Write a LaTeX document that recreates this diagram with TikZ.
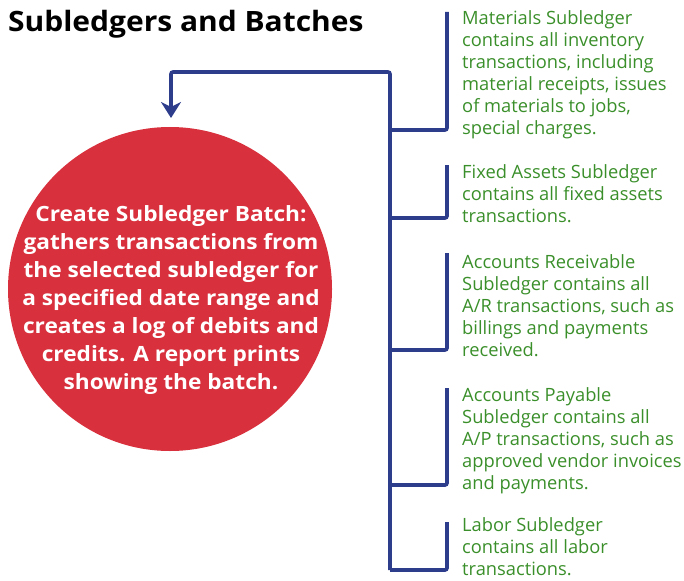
\documentclass[tikz,border=0pt]{standalone}
\usepackage{fontspec}
\setmainfont{Open Sans}
\newfontfamily\titlefont[FakeStretch=1.07]{Open Sans}
\newfontfamily\circfont[FakeStretch=1.08]{Open Sans}
\usetikzlibrary{arrows.meta}
\definecolor{myred}{HTML}{D8303C}
\definecolor{myblue}{HTML}{2E3C8C}
\definecolor{mygreen}{HTML}{3A8F2A}
\tikzset{
  conn/.style={draw=myblue, line width=3.6pt, rounded corners=2pt},
  desc/.style={anchor=north west, inner sep=0pt, align=left, text=mygreen,
    font=\fontsize{18.3}{22}\selectfont},
}
\begin{document}
\begin{tikzpicture}[x=1pt,y=-1pt]
\useasboundingbox (0,0) rectangle (684,580);
\node[anchor=base west, inner sep=0pt, font=\titlefont\fontsize{28}{32}\selectfont\bfseries] (title) at (8,32) {Subledgers and Batches};
\node[circle, fill=myred, minimum size=324pt, inner sep=0pt] (circ) at (170,289) {};
\node[align=center, text=white, inner sep=0pt, font=\circfont\fontsize{21}{28}\selectfont\bfseries] (ctext) at (171,300) {Create Subledger Batch:\\gathers transactions from\\the selected subledger for\\a specified date range and\\creates a log of debits and\\credits. A report prints\\showing the batch.};
% text blocks
\node[desc] (mat) at (462,10) {Materials Subledger\\contains all inventory\\transactions, including\\material receipts, issues\\of materials to jobs,\\special charges.};
\node[desc] (fix) at (462,164) {Fixed Assets Subledger\\contains all fixed assets\\transactions.};
\node[desc] (ar) at (462,254) {Accounts Receivable\\Subledger contains all\\A/R transactions, such as\\billings and payments\\received.};
\node[desc] (ap) at (462,387) {Accounts Payable\\Subledger contains all\\A/P transactions, such as\\approved vendor invoices\\and payments.};
\node[desc] (lab) at (462,517) {Labor Subledger\\contains all labor\\transactions.};
% coordinates
\coordinate (sTop) at (390,72);
\coordinate (sBot) at (390,570);
\coordinate (aCorner) at (171,72);
\coordinate (aTip) at (171,118);
% spine and arrow
\draw[conn, -{Stealth[length=16pt,width=20pt,inset=5pt]}] (sBot) -- (sTop) -- (aCorner) -- (aTip);
% brackets
\draw[conn] (447,12) -- (447,130) -- (390,130);
\draw[conn] (447,165) -- (447,218) -- (390,218);
\draw[conn] (447,253) -- (447,350) -- (390,350);
\draw[conn] (447,388) -- (447,485) -- (390,485);
\draw[conn] (447,522) -- (447,570) -- (390,570);
\end{tikzpicture}
\end{document}
